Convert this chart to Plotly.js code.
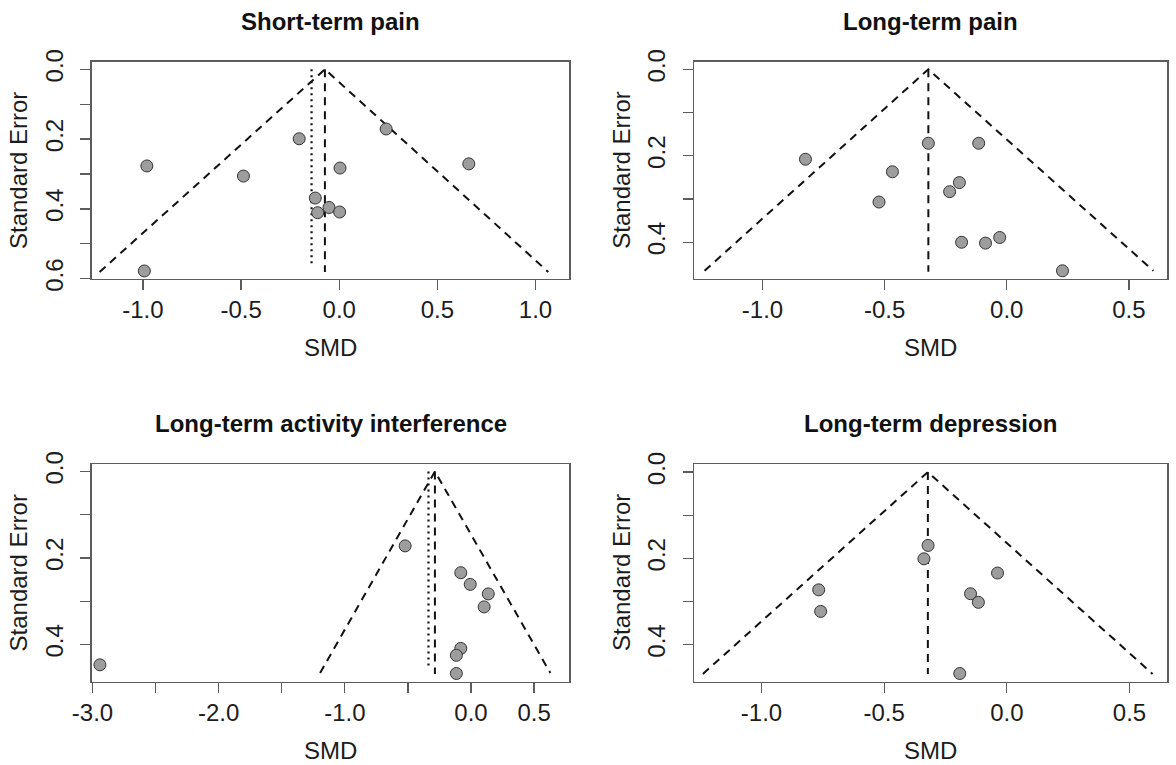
<!DOCTYPE html>
<html>
<head>
<meta charset="utf-8">
<script src="https://cdn.plot.ly/plotly-3.0.1.min.js"></script>
<style>html,body{margin:0;padding:0;background:#fff;}#chart{width:1176px;height:765px;}</style>
</head>
<body>
<div id="chart"></div>
<script>
// ---- Data ----
const panelTitles = ["Short-term pain", "Long-term pain", "Long-term activity interference", "Long-term depression"];

// Panel 1: Short-term pain
const p1SMD = [-0.980, -0.488, -0.204, 0.239, 0.660, 0.004, -0.122, -0.052, -0.110, 0.002, -0.993];
const p1SE  = [0.277, 0.306, 0.199, 0.171, 0.271, 0.283, 0.369, 0.396, 0.411, 0.409, 0.578];
const p1FunnelX = [-1.221, -0.073, 1.065];
const p1FunnelSE = [0.581, 0, 0.581];
const p1CenterX = [-0.073, -0.073];
const p1CenterSE = [0, 0.581];
const p1DottedX = [-0.141, -0.141];
const p1DottedSE = [0, 0.566];

// Panel 2: Long-term pain
const p2SMD = [-0.824, -0.321, -0.115, -0.468, -0.523, -0.194, -0.234, -0.185, -0.087, -0.029, 0.228];
const p2SE  = [0.208, 0.171, 0.171, 0.237, 0.307, 0.262, 0.283, 0.400, 0.402, 0.389, 0.466];
const p2FunnelX = [-1.237, -0.321, 0.600];
const p2FunnelSE = [0.466, 0, 0.466];
const p2CenterX = [-0.321, -0.321];
const p2CenterSE = [0, 0.468];

// Panel 3: Long-term activity interference
const p3SMD = [-2.941, -0.522, -0.081, -0.006, 0.137, 0.104, -0.081, -0.116, -0.116];
const p3SE  = [0.447, 0.172, 0.234, 0.261, 0.283, 0.313, 0.409, 0.425, 0.467];
const p3FunnelX = [-1.196, -0.286, 0.629];
const p3FunnelSE = [0.466, 0, 0.466];
const p3CenterX = [-0.286, -0.286];
const p3CenterSE = [0, 0.468];
const p3DottedX = [-0.337, -0.337];
const p3DottedSE = [0, 0.456];

// Panel 4: Long-term depression
const p4SMD = [-0.767, -0.759, -0.321, -0.338, -0.038, -0.148, -0.116, -0.192];
const p4SE  = [0.273, 0.323, 0.170, 0.201, 0.234, 0.282, 0.302, 0.467];
const p4FunnelX = [-1.239, -0.322, 0.594];
const p4FunnelSE = [0.468, 0, 0.468];
const p4CenterX = [-0.322, -0.322];
const p4CenterSE = [0, 0.468];

// Tick values / labels
const yTicks6 = [0, 0.1, 0.2, 0.3, 0.4, 0.5, 0.6];
const yLabels6 = ["0.0", "", "0.2", "", "0.4", "", "0.6"];
const yTicks4 = [0, 0.1, 0.2, 0.3, 0.4];
const yLabels4 = ["0.0", "", "0.2", "", "0.4"];
const xTicksA = [-1.0, -0.5, 0.0, 0.5, 1.0];
const xLabelsA = ["-1.0", "-0.5", "0.0", "0.5", "1.0"];
const xTicksB = [-1.0, -0.5, 0.0, 0.5];
const xLabelsB = ["-1.0", "-0.5", "0.0", "0.5"];
const xTicksC = [-3.0, -2.5, -2.0, -1.5, -1.0, -0.5, 0.0, 0.5];
const xLabelsC = ["-3.0", "", "-2.0", "", "-1.0", "", "0.0", "0.5"];

// ---- Styling ----
const FONT = "Liberation Sans, Arial, Helvetica, sans-serif";
const W = 1176, H = 765;
const boxColor = "#5c5c5c";
const lineColor = "#111111";
const DASH = "8px,6px";
const DOT = "2px,4px";

function pts(x, y, ax) {
  return {x: x, y: y, xaxis: "x" + ax, yaxis: "y" + ax, type: "scatter", mode: "markers",
    marker: {size: 12, color: "#9d9d9d", line: {color: "#333333", width: 1}}, hoverinfo: "skip"};
}
function dline(x, y, ax, dash, w) {
  return {x: x, y: y, xaxis: "x" + ax, yaxis: "y" + ax, type: "scatter", mode: "lines",
    line: {color: lineColor, width: w || 2, dash: dash}, hoverinfo: "skip"};
}

const traces = [
  dline(p1FunnelX, p1FunnelSE, "", DASH),
  dline(p1CenterX, p1CenterSE, "", DASH),
  dline(p1DottedX, p1DottedSE, "", DOT, 2.2),
  pts(p1SMD, p1SE, ""),
  dline(p2FunnelX, p2FunnelSE, "2", DASH),
  dline(p2CenterX, p2CenterSE, "2", DASH),
  pts(p2SMD, p2SE, "2"),
  dline(p3FunnelX, p3FunnelSE, "3", DASH),
  dline(p3CenterX, p3CenterSE, "3", DASH),
  dline(p3DottedX, p3DottedSE, "3", DOT, 2.2),
  pts(p3SMD, p3SE, "3"),
  dline(p4FunnelX, p4FunnelSE, "4", DASH),
  dline(p4CenterX, p4CenterSE, "4", DASH),
  pts(p4SMD, p4SE, "4")
];

// pixel boxes [left, right, top, bottom]
const boxes = [
  [91.7, 569.3, 61.7, 279.0],
  [694.3, 1167.3, 61.7, 279.0],
  [91.7, 569.3, 463.8, 681.7],
  [694.3, 1167.3, 463.8, 681.7]
];
const xRanges = [[-1.261, 1.172], [-1.279, 0.657], [-3.006, 0.779], [-1.274, 0.654]];
const yRanges = [[0.601, -0.0218], [0.485, -0.0176], [0.486, -0.0178], [0.486, -0.0193]];
const xTickSets = [[xTicksA, xLabelsA], [xTicksB, xLabelsB], [xTicksC, xLabelsC], [xTicksB, xLabelsB]];
const yTickSets = [[yTicks6, yLabels6], [yTicks4, yLabels4], [yTicks4, yLabels4], [yTicks4, yLabels4]];

const layout = {
  width: W, height: H, margin: {l: 0, r: 0, t: 0, b: 0},
  paper_bgcolor: "#ffffff", plot_bgcolor: "#ffffff",
  showlegend: false, hovermode: false,
  font: {family: FONT, size: 24, color: "#1c1c1c"},
  annotations: []
};

boxes.forEach((b, i) => {
  const sfx = i === 0 ? "" : String(i + 1);
  const xd = [b[0] / W, b[1] / W];
  const yd = [1 - b[3] / H, 1 - b[2] / H];
  layout["xaxis" + sfx] = {
    domain: xd, range: xRanges[i], anchor: "y" + sfx,
    showgrid: false, zeroline: false, showline: true, mirror: true,
    linecolor: boxColor, linewidth: 1.3,
    ticks: "outside", ticklen: 10, tickwidth: 1.3, tickcolor: boxColor,
    tickmode: "array", tickvals: xTickSets[i][0], ticktext: xTickSets[i][1],
    tickfont: {family: FONT, size: 24, color: "#1c1c1c"}, ticklabelstandoff: -1,
    fixedrange: true
  };
  layout["yaxis" + sfx] = {
    domain: yd, range: yRanges[i], anchor: "x" + sfx,
    showgrid: false, zeroline: false, showline: true, mirror: true,
    linecolor: boxColor, linewidth: 1.3,
    ticks: "outside", ticklen: 10, tickwidth: 1.3, tickcolor: boxColor,
    tickmode: "array", tickvals: yTickSets[i][0], ticktext: yTickSets[i][1],
    tickangle: -90,
    tickfont: {family: FONT, size: 24, color: "#1c1c1c"}, ticklabelstandoff: 8,
    fixedrange: true
  };
  const cx = (b[0] + b[1]) / 2 / W;
  // panel title
  layout.annotations.push({text: "<b>" + panelTitles[i] + "</b>", xref: "paper", yref: "paper",
    x: cx, y: 1 - (b[2] - 40) / H, xanchor: "center", yanchor: "middle", showarrow: false,
    font: {family: FONT, size: 24, color: "#111111"}});
  // x axis title
  layout.annotations.push({text: "SMD", xref: "paper", yref: "paper",
    x: cx, y: 1 - (b[3] + 69) / H, xanchor: "center", yanchor: "middle", showarrow: false,
    font: {family: FONT, size: 24, color: "#1c1c1c"}});
  // y axis title
  layout.annotations.push({text: "Standard Error", xref: "paper", yref: "paper",
    x: (b[0] - 73) / W, y: 1 - ((b[2] + b[3]) / 2) / H, xanchor: "center", yanchor: "middle",
    textangle: -90, showarrow: false,
    font: {family: FONT, size: 24, color: "#1c1c1c"}});
});

Plotly.newPlot("chart", traces, layout, {staticPlot: true, displayModeBar: false});
</script>
</body>
</html>
